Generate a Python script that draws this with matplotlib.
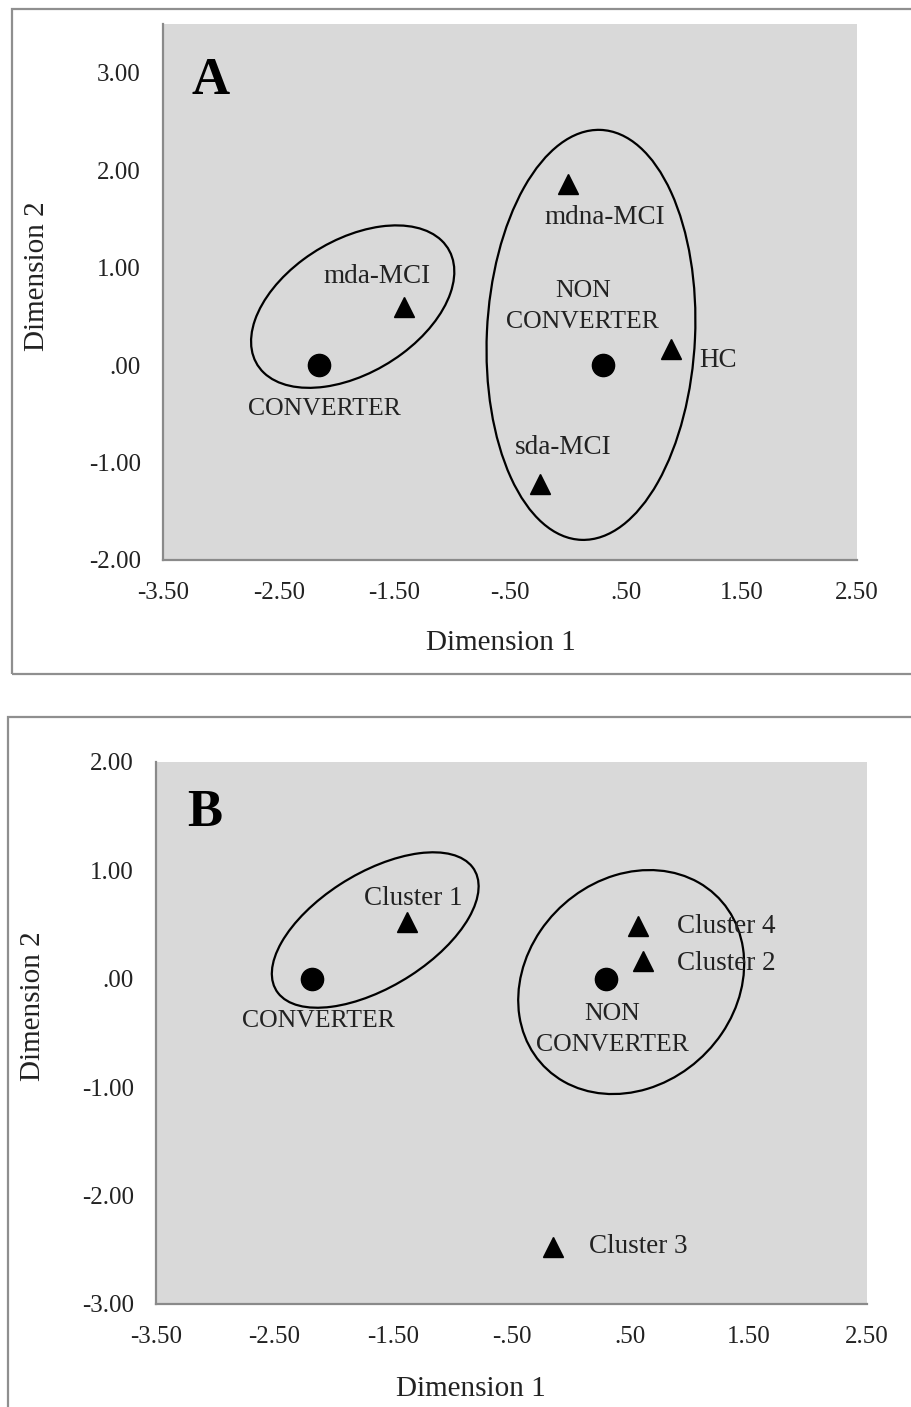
import numpy as np
import matplotlib
matplotlib.use("Agg")
import matplotlib.pyplot as plt
from matplotlib.patches import Ellipse, Rectangle

# panel A: group centroids and subgroup points
groups = ["CONVERTER", "NON\nCONVERTER"]
grp_x_a = [-2.15, 0.30]
grp_y_a = [0.0, 0.0]
sub_names_a = ["mda-MCI", "mdna-MCI", "HC", "sda-MCI"]
sub_x_a = [-1.42, 0.00, 0.89, -0.24]
sub_y_a = [0.60, 1.86, 0.16, -1.22]

# panel B
grp_x_b = [-2.18, 0.30]
grp_y_b = [0.0, 0.0]
sub_names_b = ["Cluster 1", "Cluster 4", "Cluster 2", "Cluster 3"]
sub_x_b = [-1.38, 0.57, 0.61, -0.15]
sub_y_b = [0.52, 0.49, 0.16, -2.47]

xticks = [-3.5, -2.5, -1.5, -0.5, 0.5, 1.5, 2.5]
xticklabels = ["-3.50", "-2.50", "-1.50", "-.50", ".50", "1.50", "2.50"]
yticks_a = [-2, -1, 0, 1, 2, 3]
yticklabels_a = ["-2.00", "-1.00", ".00", "1.00", "2.00", "3.00"]
yticks_b = [-3, -2, -1, 0, 1, 2]
yticklabels_b = ["-3.00", "-2.00", "-1.00", ".00", "1.00", "2.00"]

plt.rcParams['font.family'] = ['Liberation Serif', 'DejaVu Serif']
txt_col = '#222222'
spine_col = '#8a8a8a'

fig = plt.figure(figsize=(9.11, 14.07), dpi=100)

# outer frames around each panel (pixel coords -> figure fraction)
W, H = 911.0, 1407.0
def frame(x0, y0, x1, y1):
    r = Rectangle((x0 / W, 1 - y1 / H), (x1 - x0) / W, (y1 - y0) / H,
                  transform=fig.transFigure, fill=False, edgecolor='#8f8f8f',
                  linewidth=1.6, zorder=0)
    fig.patches.append(r)

frame(12, 9, 930, 674)
frame(8, 717, 930, 1430)


def setup(ax, yticks, ylabels, ylim):
    ax.set_facecolor('#d9d9d9')
    ax.set_xlim(-3.5, 2.5)
    ax.set_ylim(*ylim)
    for s in ['top', 'right']:
        ax.spines[s].set_visible(False)
    for s in ['left', 'bottom']:
        ax.spines[s].set_color(spine_col)
        ax.spines[s].set_linewidth(1.6)
    ax.set_xticks(xticks)
    ax.set_xticklabels(xticklabels)
    ax.set_yticks(yticks)
    ax.set_yticklabels(ylabels)
    ax.tick_params(axis='x', length=0, pad=16, labelsize=18, labelcolor=txt_col)
    ax.tick_params(axis='y', length=0, pad=16, labelsize=18, labelcolor=txt_col)
    ax.set_xlabel("Dimension 1", fontsize=21, color=txt_col)
    ax.set_ylabel("Dimension 2", fontsize=21, color=txt_col)


def draw_points(ax, gx, gy, sx, sy):
    ax.plot(gx, gy, 'o', color='black', markersize=16, zorder=3)
    ax.plot(sx, sy, '^', color='black', markersize=14, zorder=3)


# ---- panel A ----
axA = fig.add_axes([163 / W, 1 - 560 / H, (857 - 163) / W, (560 - 24) / H])
setup(axA, yticks_a, yticklabels_a, (-2, 3.5))
draw_points(axA, grp_x_a, grp_y_a, sub_x_a, sub_y_a)
axA.xaxis.set_label_coords(0.487, -0.13)
axA.yaxis.set_label_coords(-0.163, 0.53)

off_a = [(-0.23, 0.31), (0.32, -0.35), (0.41, -0.115), (0.20, 0.37)]
for n, x, y, (dx, dy) in zip(sub_names_a, sub_x_a, sub_y_a, off_a):
    axA.text(x + dx, y + dy, n, ha='center', va='center', fontsize=19.5, color=txt_col)
grp_off_a = [(0.05, -0.45), (-0.17, 0.60)]
for n, x, y, (dx, dy) in zip(groups, grp_x_a, grp_y_a, grp_off_a):
    axA.text(x + dx, y + dy, n, ha='center', va='center', fontsize=18.5,
             color=txt_col, linespacing=1.5)

axA.add_patch(Ellipse((-1.86, 0.60), 2.05, 1.29, angle=41.5, fill=False,
                      edgecolor='black', linewidth=1.6))
axA.add_patch(Ellipse((0.20, 0.31), 4.21, 1.80, angle=87.8, fill=False,
                      edgecolor='black', linewidth=1.6))
axA.text(-3.09, 2.92, "A", ha='center', va='center', fontsize=38,
         fontweight='bold', color='black')

# ---- panel B ----
axB = fig.add_axes([156 / W, 1 - 1304 / H, (867 - 156) / W, (1304 - 762) / H])
setup(axB, yticks_b, yticklabels_b, (-3, 2))
draw_points(axB, grp_x_b, grp_y_b, sub_x_b, sub_y_b)
axB.xaxis.set_label_coords(0.443, -0.133)
axB.yaxis.set_label_coords(-0.155, 0.55)

off_b = [(0.05, 0.22), (0.74, -0.01), (0.70, -0.02), (0.72, 0.0)]
for n, x, y, (dx, dy) in zip(sub_names_b, sub_x_b, sub_y_b, off_b):
    axB.text(x + dx, y + dy, n, ha='center', va='center', fontsize=19.5, color=txt_col)
grp_off_b = [(0.05, -0.39), (0.05, -0.47)]
for n, x, y, (dx, dy) in zip(groups, grp_x_b, grp_y_b, grp_off_b):
    axB.text(x + dx, y + dy, n, ha='center', va='center', fontsize=18.5,
             color=txt_col, linespacing=1.5)

axB.add_patch(Ellipse((-1.65, 0.45), 2.01, 1.03, angle=35.3, fill=False,
                      edgecolor='black', linewidth=1.6))
axB.add_patch(Ellipse((0.51, -0.03), 2.16, 1.80, angle=58.2, fill=False,
                      edgecolor='black', linewidth=1.6))
axB.text(-3.09, 1.53, "B", ha='center', va='center', fontsize=38,
         fontweight='bold', color='black')

fig.savefig("out.png", dpi=100)
